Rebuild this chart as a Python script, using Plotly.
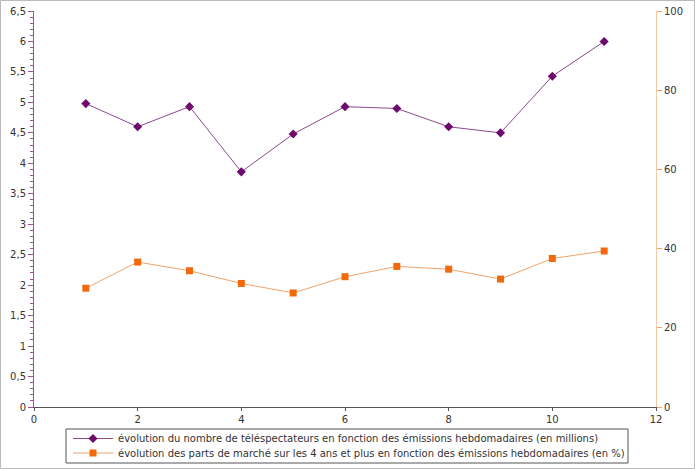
import plotly.graph_objects as go

weeks = [1, 2, 3, 4, 5, 6, 7, 8, 9, 10, 11]
viewers_millions = [4.98, 4.6, 4.93, 3.86, 4.48, 4.93, 4.9, 4.6, 4.5, 5.43, 6.0]
market_share_pct = [30.0, 36.6, 34.4, 31.2, 28.8, 32.9, 35.5, 34.8, 32.3, 37.5, 39.4]

name1 = "évolution du nombre de téléspectateurs en fonction des émissions hebdomadaires (en millions)"
name2 = "évolution des parts de marché sur les 4 ans et plus en fonction des émissions hebdomadaires (en %)"

font = "DejaVu Sans, Verdana, sans-serif"

# plot area in pixels: left 34, right 656, top 11, bottom 407
PW, PH = 622, 396


def px_x(p):
    return (p - 34) / PW


def px_y(p):
    return (407 - p) / PH


fig = go.Figure()
fig.add_trace(go.Scatter(
    x=weeks, y=viewers_millions, name=name1, mode="lines+markers",
    line=dict(color="#8a4a8a", width=1),
    marker=dict(symbol="diamond", size=7, color="#6e0a6e"),
    yaxis="y", legend="legend",
))
fig.add_trace(go.Scatter(
    x=weeks, y=market_share_pct, name=name2, mode="lines+markers",
    line=dict(color="#f0a468", width=1),
    marker=dict(symbol="square", size=7, color="#f2680c"),
    yaxis="y2", legend="legend2",
))

legend_common = dict(
    xanchor="left", yanchor="middle",
    bgcolor="rgba(0,0,0,0)", borderwidth=0,
    font=dict(size=10, color="#333333"),
    itemwidth=40,
)

fig.update_layout(
    width=695, height=469,
    margin=dict(l=34, r=39, t=11, b=62, autoexpand=False),
    paper_bgcolor="white", plot_bgcolor="white",
    separators=", ",
    font=dict(family=font, size=10, color="#333333"),
    showlegend=True,
    legend=dict(x=px_x(68), y=px_y(438.5), **legend_common),
    legend2=dict(x=px_x(68), y=px_y(453), **legend_common),
    xaxis=dict(
        range=[0, 12], dtick=2, tick0=0,
        showgrid=False, zeroline=False,
        showline=True, linecolor="#555555", linewidth=1,
        ticks="outside", ticklen=3, tickcolor="#555555",
    ),
    yaxis=dict(
        range=[0, 6.5], dtick=0.5, tick0=0,
        showgrid=False, zeroline=False,
        showline=True, linecolor="#a050a0", linewidth=1,
        ticks="outside", ticklen=5, tickcolor="#a050a0",
        minor=dict(dtick=0.1, ticks="outside", ticklen=3, tickcolor="#a050a0"),
        tickformat=".1~f",
    ),
    yaxis2=dict(
        range=[0, 100], dtick=20, tick0=0,
        overlaying="y", side="right",
        showgrid=False, zeroline=False,
        showline=True, linecolor="#f5c8a4", linewidth=1,
        ticks="outside", ticklen=5, tickcolor="#f0a468",
    ),
    shapes=[
        dict(
            type="rect", xref="paper", yref="paper",
            x0=px_x(0.5), x1=px_x(694.5), y0=px_y(468.5), y1=px_y(0.5),
            line=dict(color="#bbbbbb", width=1), fillcolor="rgba(0,0,0,0)",
            layer="below",
        ),
        dict(
            type="rect", xref="paper", yref="paper",
            x0=px_x(66), x1=px_x(628), y0=px_y(463), y1=px_y(429),
            line=dict(color="#555555", width=1), fillcolor="rgba(0,0,0,0)",
            layer="below",
        ),
    ],
)

fig.write_html(
    "out.html",
    config={"displayModeBar": False},
    post_script="document.body.style.margin='0';document.body.style.overflow='hidden';",
)
